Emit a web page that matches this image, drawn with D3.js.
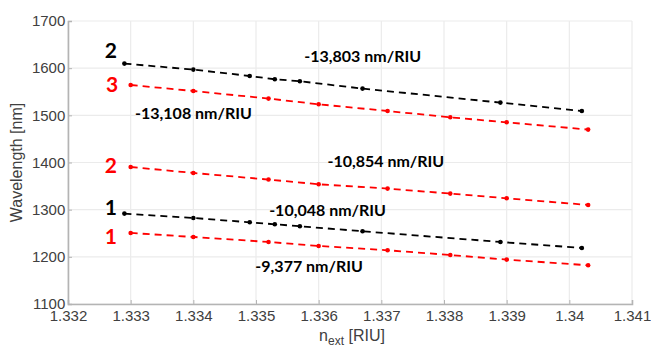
<!DOCTYPE html>
<html lang="en">
<head>
    <meta charset="utf-8" />
    <script src="https://d3js.org/d3.v7.min.js"></script>
    <style>
        body { margin: 0; background: #fff; }
        text { font-family: Arial, "Liberation Sans", sans-serif; }
    </style>
</head>
<body>
<script>
    const w = 651;
    const h = 350;
    const margin = { top: 21, right: 19, bottom: 46, left: 68 };

    // refractive index of the measurements
    const blackN = [1.3329, 1.3340, 1.3349, 1.3353, 1.3357, 1.3367, 1.3389, 1.3402];
    const redN = [1.3330, 1.3340, 1.3352, 1.3360, 1.3371, 1.3381, 1.3390, 1.3403];

    // resonance wavelengths (nm)
    const black2 = [1609.7, 1597.0, 1583.4, 1576.4, 1572.2, 1556.7, 1527.0, 1509.2];
    const black1 = [1291.7, 1282.4, 1273.2, 1269.0, 1264.8, 1254.2, 1231.5, 1218.8];
    const red3 = [1564.3, 1551.6, 1535.5, 1523.4, 1509.2, 1495.8, 1485.2, 1469.8];
    const red2 = [1390.5, 1377.8, 1363.8, 1353.8, 1344.7, 1334.1, 1324.1, 1310.0];
    const red1 = [1250.6, 1242.1, 1231.5, 1223.0, 1213.9, 1203.9, 1194.1, 1182.1];

    const xTicks = [1.332, 1.333, 1.334, 1.335, 1.336, 1.337, 1.338, 1.339, 1.340, 1.341];
    const yTicks = [1100, 1200, 1300, 1400, 1500, 1600, 1700];

    const series = [
        { n: blackN, y: black2, color: "#000", label: "2", lx: 1.33278, ly: 1620.9 },
        { n: redN, y: red3, color: "#ff0000", label: "3", lx: 1.33280, ly: 1548.8 },
        { n: redN, y: red2, color: "#ff0000", label: "2", lx: 1.33278, ly: 1377 },
        { n: blackN, y: black1, color: "#000", label: "1", lx: 1.33278, ly: 1288 },
        { n: redN, y: red1, color: "#ff0000", label: "1", lx: 1.33278, ly: 1226.5 }
    ];

    const slopes = [
        { text: "-13,803 nm/RIU", n: 1.33577, y: 1612.4 },
        { text: "-13,108 nm/RIU", n: 1.33307, y: 1491.6 },
        { text: "-10,854 nm/RIU", n: 1.33614, y: 1389.8 },
        { text: "-10,048 nm/RIU", n: 1.33521, y: 1286 },
        { text: "-9,377 nm/RIU", n: 1.33499, y: 1167.3 }
    ];

    const xScale = d3.scaleLinear().domain([1.332, 1.341]).range([margin.left, w - margin.right]);
    const yScale = d3.scaleLinear().domain([1100, 1700]).range([h - margin.bottom, margin.top]);

    const svg = d3.select("body").append("svg")
        .attr("width", w)
        .attr("height", h);

    // grid
    svg.append("g").selectAll("line").data(xTicks).join("line")
        .attr("x1", d => xScale(d)).attr("x2", d => xScale(d))
        .attr("y1", yScale(1100)).attr("y2", yScale(1700))
        .attr("stroke", "#ebebeb").attr("stroke-width", 1.2);
    svg.append("g").selectAll("line").data(yTicks).join("line")
        .attr("x1", xScale(1.332)).attr("x2", xScale(1.341))
        .attr("y1", d => yScale(d)).attr("y2", d => yScale(d))
        .attr("stroke", "#ebebeb").attr("stroke-width", 1.2);

    const xAxis = d3.axisBottom(xScale)
        .tickValues(xTicks)
        .tickSize(-4)
        .tickPadding(6)
        .tickFormat(d => String(+d.toFixed(3)));
    const yAxis = d3.axisLeft(yScale)
        .tickValues(yTicks)
        .tickSize(-4)
        .tickPadding(5)
        .tickFormat(d3.format("d"));

    const gx = svg.append("g")
        .attr("transform", "translate(0," + (h - margin.bottom) + ")")
        .call(xAxis);
    const gy = svg.append("g")
        .attr("transform", "translate(" + margin.left + ",0)")
        .call(yAxis);

    [gx, gy].forEach(g => {
        g.select(".domain").attr("stroke", "#b4b4b4").attr("stroke-width", 1.6);
        g.selectAll(".tick line").attr("stroke", "#b4b4b4");
        g.selectAll(".tick text")
            .attr("fill", "#404040")
            .style("font-size", "15px")
            .style("font-family", "Arial, 'Liberation Sans', sans-serif");
    });
    gy.selectAll(".tick text").attr("dx", "0.15em");
    gx.selectAll(".tick text").attr("dy", "0.74em");

    // axis labels
    svg.append("text")
        .attr("transform", "translate(22," + (yScale(1400)) + ") rotate(-90)")
        .attr("text-anchor", "middle")
        .attr("fill", "#404040")
        .style("font-size", "16px")
        .text("Wavelength [nm]");

    const xl = svg.append("text")
        .attr("x", (margin.left + w - margin.right) / 2 + 2)
        .attr("y", 341)
        .attr("text-anchor", "middle")
        .attr("fill", "#404040")
        .style("font-size", "16px");
    xl.append("tspan").text("n");
    xl.append("tspan").attr("dy", 4).style("font-size", "12px").text("ext");
    xl.append("tspan").attr("dy", -4).text(" [RIU]");

    // series
    const line = d3.line().x(d => xScale(d[0])).y(d => yScale(d[1]));

    series.forEach(s => {
        const pts = s.n.map((v, i) => [v, s.y[i]]);
        svg.append("path")
            .datum(pts)
            .attr("d", line)
            .attr("fill", "none")
            .attr("stroke", s.color)
            .attr("stroke-width", 1.8)
            .attr("stroke-dasharray", "7,5");
        svg.append("g").selectAll("circle").data(pts).join("circle")
            .attr("cx", d => xScale(d[0]))
            .attr("cy", d => yScale(d[1]))
            .attr("r", 2.3)
            .attr("fill", s.color);
        svg.append("text")
            .attr("x", xScale(s.lx))
            .attr("y", yScale(s.ly))
            .attr("text-anchor", "end")
            .attr("fill", s.color)
            .style("font-family", "Lato, 'Open Sans', sans-serif")
            .style("font-weight", "bold")
            .style("font-size", "21px")
            .text(s.label);
    });

    svg.append("g").selectAll("text").data(slopes).join("text")
        .attr("x", d => xScale(d.n))
        .attr("y", d => yScale(d.y))
        .attr("fill", "#000")
        .style("font-family", "Lato, 'Open Sans', sans-serif")
        .style("font-weight", "bold")
        .style("font-size", "16px")
        .text(d => d.text);
</script>
</body>
</html>
